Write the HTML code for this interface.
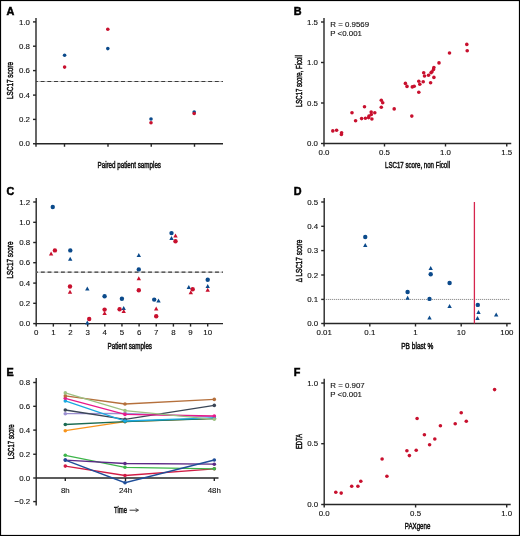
<!DOCTYPE html>
<html><head><meta charset="utf-8"><style>
html,body{margin:0;padding:0;background:#fff;}
svg{display:block;will-change:transform;font-family:"Liberation Sans",sans-serif;}
text{stroke:#111;stroke-width:0.12px;}
text.t{stroke-width:0.5px;}
</style></head><body>
<svg width="520" height="536" viewBox="0 0 520 536">
<rect x="0" y="0" width="520" height="536" fill="#fff"/>
<text x="6.5" y="15.2" font-size="10.8" font-weight="bold" fill="#000" style="stroke:#000;stroke-width:0.5px">A</text>
<line x1="36" y1="18" x2="36" y2="146.7" stroke="#262626" stroke-width="1.4" />
<line x1="35.4" y1="143.75" x2="223" y2="143.75" stroke="#262626" stroke-width="1.4" />
<line x1="33" y1="143.75" x2="36" y2="143.75" stroke="#262626" stroke-width="1.4" />
<text x="30" y="146.357" font-size="7.9" text-anchor="end" fill="#111111" >0.0</text>
<line x1="33" y1="119.4" x2="36" y2="119.4" stroke="#262626" stroke-width="1.4" />
<text x="30" y="122.007" font-size="7.9" text-anchor="end" fill="#111111" >0.2</text>
<line x1="33" y1="95.1" x2="36" y2="95.1" stroke="#262626" stroke-width="1.4" />
<text x="30" y="97.707" font-size="7.9" text-anchor="end" fill="#111111" >0.4</text>
<line x1="33" y1="70.6" x2="36" y2="70.6" stroke="#262626" stroke-width="1.4" />
<text x="30" y="73.207" font-size="7.9" text-anchor="end" fill="#111111" >0.6</text>
<line x1="33" y1="46.2" x2="36" y2="46.2" stroke="#262626" stroke-width="1.4" />
<text x="30" y="48.807" font-size="7.9" text-anchor="end" fill="#111111" >0.8</text>
<line x1="33" y1="21.9" x2="36" y2="21.9" stroke="#262626" stroke-width="1.4" />
<text x="30" y="24.506999999999998" font-size="7.9" text-anchor="end" fill="#111111" >1.0</text>
<line x1="64.5" y1="143.75" x2="64.5" y2="146.75" stroke="#262626" stroke-width="1.4" />
<line x1="108" y1="143.75" x2="108" y2="146.75" stroke="#262626" stroke-width="1.4" />
<line x1="151.25" y1="143.75" x2="151.25" y2="146.75" stroke="#262626" stroke-width="1.4" />
<line x1="194.5" y1="143.75" x2="194.5" y2="146.75" stroke="#262626" stroke-width="1.4" />
<text transform="translate(9.6,80.5) rotate(-90)" x="0" y="3.31" font-size="9.2" text-anchor="middle" fill="#111111" class="t" textLength="37" lengthAdjust="spacingAndGlyphs">LSC17 score</text>
<text x="97.5" y="168.31" font-size="9.2" fill="#111111" class="t" textLength="63.5" lengthAdjust="spacingAndGlyphs">Paired patient samples</text>
<line x1="36" y1="81.5" x2="223" y2="81.5" stroke="#c4c4c4" stroke-width="1.0" />
<line x1="36" y1="81.5" x2="223" y2="81.5" stroke="#3a3a3a" stroke-width="1.2" stroke-dasharray="3.9 2.8" stroke-dashoffset="2.05"/>
<circle cx="64.6" cy="55.2" r="1.8" fill="#0b4a8b"/>
<circle cx="64.6" cy="67.1" r="1.8" fill="#c8102e"/>
<circle cx="107.8" cy="48.6" r="1.8" fill="#0b4a8b"/>
<circle cx="107.8" cy="29.3" r="1.8" fill="#c8102e"/>
<circle cx="151" cy="119" r="1.8" fill="#0b4a8b"/>
<circle cx="151" cy="122.7" r="1.8" fill="#c8102e"/>
<circle cx="194.2" cy="112" r="1.8" fill="#0b4a8b"/>
<circle cx="194.2" cy="113.5" r="1.8" fill="#c8102e"/>
<text x="293.75" y="15.1" font-size="10.8" font-weight="bold" fill="#000" style="stroke:#000;stroke-width:0.5px">B</text>
<line x1="324" y1="18" x2="324" y2="144.1" stroke="#262626" stroke-width="1.4" />
<line x1="323.4" y1="143.5" x2="511.25" y2="143.5" stroke="#262626" stroke-width="1.4" />
<line x1="321" y1="143.5" x2="324" y2="143.5" stroke="#262626" stroke-width="1.4" />
<text x="318" y="146.107" font-size="7.9" text-anchor="end" fill="#111111" >0.0</text>
<line x1="321" y1="103" x2="324" y2="103" stroke="#262626" stroke-width="1.4" />
<text x="318" y="105.607" font-size="7.9" text-anchor="end" fill="#111111" >0.5</text>
<line x1="321" y1="62.5" x2="324" y2="62.5" stroke="#262626" stroke-width="1.4" />
<text x="318" y="65.107" font-size="7.9" text-anchor="end" fill="#111111" >1.0</text>
<line x1="321" y1="22" x2="324" y2="22" stroke="#262626" stroke-width="1.4" />
<text x="318" y="24.607" font-size="7.9" text-anchor="end" fill="#111111" >1.5</text>
<line x1="324" y1="143.5" x2="324" y2="146.5" stroke="#262626" stroke-width="1.4" />
<text x="324" y="154.833" font-size="7.9" text-anchor="middle" fill="#111111" >0.0</text>
<line x1="384.5" y1="143.5" x2="384.5" y2="146.5" stroke="#262626" stroke-width="1.4" />
<text x="384.5" y="154.833" font-size="7.9" text-anchor="middle" fill="#111111" >0.5</text>
<line x1="445.5" y1="143.5" x2="445.5" y2="146.5" stroke="#262626" stroke-width="1.4" />
<text x="445.5" y="154.833" font-size="7.9" text-anchor="middle" fill="#111111" >1.0</text>
<line x1="506.75" y1="143.5" x2="506.75" y2="146.5" stroke="#262626" stroke-width="1.4" />
<text x="506.75" y="154.833" font-size="7.9" text-anchor="middle" fill="#111111" >1.5</text>
<text transform="translate(298.6,81) rotate(-90)" x="0" y="3.31" font-size="9.2" text-anchor="middle" fill="#111111" class="t" textLength="52" lengthAdjust="spacingAndGlyphs">LSC17 score, Ficoll</text>
<text x="385" y="168.31" font-size="9.2" fill="#111111" class="t" textLength="65" lengthAdjust="spacingAndGlyphs">LSC17 score, non Ficoll</text>
<text x="330.3" y="27" font-size="7.9" text-anchor="start" fill="#111111" >R = 0.9569</text>
<text x="330.3" y="35.7" font-size="7.9" text-anchor="start" fill="#111111" >P &lt;0.001</text>
<circle cx="332.8" cy="130.9" r="1.8" fill="#c8102e"/>
<circle cx="336.6" cy="130.3" r="1.8" fill="#c8102e"/>
<circle cx="341.6" cy="132.8" r="1.8" fill="#c8102e"/>
<circle cx="341.4" cy="134.5" r="1.8" fill="#c8102e"/>
<circle cx="352" cy="112.8" r="1.8" fill="#c8102e"/>
<circle cx="355.6" cy="120.7" r="1.8" fill="#c8102e"/>
<circle cx="361.6" cy="118.6" r="1.8" fill="#c8102e"/>
<circle cx="364.5" cy="106.8" r="1.8" fill="#c8102e"/>
<circle cx="365.4" cy="118.3" r="1.8" fill="#c8102e"/>
<circle cx="368.6" cy="117.6" r="1.8" fill="#c8102e"/>
<circle cx="369" cy="116" r="1.8" fill="#c8102e"/>
<circle cx="371.3" cy="114.5" r="1.8" fill="#c8102e"/>
<circle cx="371.2" cy="112.1" r="1.8" fill="#c8102e"/>
<circle cx="374.8" cy="112.8" r="1.8" fill="#c8102e"/>
<circle cx="371.9" cy="119" r="1.8" fill="#c8102e"/>
<circle cx="381.3" cy="100.3" r="1.8" fill="#c8102e"/>
<circle cx="382.7" cy="102.7" r="1.8" fill="#c8102e"/>
<circle cx="381.3" cy="107.3" r="1.8" fill="#c8102e"/>
<circle cx="394.2" cy="108.9" r="1.8" fill="#c8102e"/>
<circle cx="411.8" cy="116.1" r="1.8" fill="#c8102e"/>
<circle cx="405.4" cy="83.4" r="1.8" fill="#c8102e"/>
<circle cx="407" cy="86.4" r="1.8" fill="#c8102e"/>
<circle cx="412.3" cy="86.9" r="1.8" fill="#c8102e"/>
<circle cx="414.2" cy="86.3" r="1.8" fill="#c8102e"/>
<circle cx="418.8" cy="92.2" r="1.8" fill="#c8102e"/>
<circle cx="418.8" cy="81.2" r="1.8" fill="#c8102e"/>
<circle cx="419.8" cy="84.3" r="1.8" fill="#c8102e"/>
<circle cx="423.2" cy="81.7" r="1.8" fill="#c8102e"/>
<circle cx="430.6" cy="82.7" r="1.8" fill="#c8102e"/>
<circle cx="423.7" cy="72.8" r="1.8" fill="#c8102e"/>
<circle cx="424.5" cy="76" r="1.8" fill="#c8102e"/>
<circle cx="428.5" cy="75.2" r="1.8" fill="#c8102e"/>
<circle cx="433.9" cy="77.4" r="1.8" fill="#c8102e"/>
<circle cx="431" cy="72.8" r="1.8" fill="#c8102e"/>
<circle cx="432" cy="71.8" r="1.8" fill="#c8102e"/>
<circle cx="433.5" cy="69.4" r="1.8" fill="#c8102e"/>
<circle cx="433.9" cy="67.5" r="1.8" fill="#c8102e"/>
<circle cx="439" cy="62.9" r="1.8" fill="#c8102e"/>
<circle cx="449.5" cy="53" r="1.8" fill="#c8102e"/>
<circle cx="466.8" cy="44.4" r="1.8" fill="#c8102e"/>
<circle cx="467.2" cy="50.7" r="1.8" fill="#c8102e"/>
<text x="6.5" y="195.1" font-size="10.8" font-weight="bold" fill="#000" style="stroke:#000;stroke-width:0.5px">C</text>
<line x1="36.2" y1="198" x2="36.2" y2="324.2" stroke="#262626" stroke-width="1.4" />
<line x1="35.6" y1="323.6" x2="223" y2="323.6" stroke="#262626" stroke-width="1.4" />
<line x1="33.2" y1="323.6" x2="36.2" y2="323.6" stroke="#262626" stroke-width="1.4" />
<text x="30.200000000000003" y="326.20700000000005" font-size="7.9" text-anchor="end" fill="#111111" >0.0</text>
<line x1="33.2" y1="303.3" x2="36.2" y2="303.3" stroke="#262626" stroke-width="1.4" />
<text x="30.200000000000003" y="305.90700000000004" font-size="7.9" text-anchor="end" fill="#111111" >0.2</text>
<line x1="33.2" y1="283.1" x2="36.2" y2="283.1" stroke="#262626" stroke-width="1.4" />
<text x="30.200000000000003" y="285.70700000000005" font-size="7.9" text-anchor="end" fill="#111111" >0.4</text>
<line x1="33.2" y1="262.7" x2="36.2" y2="262.7" stroke="#262626" stroke-width="1.4" />
<text x="30.200000000000003" y="265.307" font-size="7.9" text-anchor="end" fill="#111111" >0.6</text>
<line x1="33.2" y1="242.5" x2="36.2" y2="242.5" stroke="#262626" stroke-width="1.4" />
<text x="30.200000000000003" y="245.107" font-size="7.9" text-anchor="end" fill="#111111" >0.8</text>
<line x1="33.2" y1="222.3" x2="36.2" y2="222.3" stroke="#262626" stroke-width="1.4" />
<text x="30.200000000000003" y="224.907" font-size="7.9" text-anchor="end" fill="#111111" >1.0</text>
<line x1="33.2" y1="202" x2="36.2" y2="202" stroke="#262626" stroke-width="1.4" />
<text x="30.200000000000003" y="204.607" font-size="7.9" text-anchor="end" fill="#111111" >1.2</text>
<line x1="36.2" y1="323.6" x2="36.2" y2="326.6" stroke="#262626" stroke-width="1.4" />
<text x="36.2" y="335.133" font-size="7.9" text-anchor="middle" fill="#111111" >0</text>
<line x1="53.35" y1="323.6" x2="53.35" y2="326.6" stroke="#262626" stroke-width="1.4" />
<text x="53.35" y="335.133" font-size="7.9" text-anchor="middle" fill="#111111" >1</text>
<line x1="70.5" y1="323.6" x2="70.5" y2="326.6" stroke="#262626" stroke-width="1.4" />
<text x="70.5" y="335.133" font-size="7.9" text-anchor="middle" fill="#111111" >2</text>
<line x1="87.65" y1="323.6" x2="87.65" y2="326.6" stroke="#262626" stroke-width="1.4" />
<text x="87.65" y="335.133" font-size="7.9" text-anchor="middle" fill="#111111" >3</text>
<line x1="104.8" y1="323.6" x2="104.8" y2="326.6" stroke="#262626" stroke-width="1.4" />
<text x="104.8" y="335.133" font-size="7.9" text-anchor="middle" fill="#111111" >4</text>
<line x1="121.95" y1="323.6" x2="121.95" y2="326.6" stroke="#262626" stroke-width="1.4" />
<text x="121.95" y="335.133" font-size="7.9" text-anchor="middle" fill="#111111" >5</text>
<line x1="139.1" y1="323.6" x2="139.1" y2="326.6" stroke="#262626" stroke-width="1.4" />
<text x="139.1" y="335.133" font-size="7.9" text-anchor="middle" fill="#111111" >6</text>
<line x1="156.25" y1="323.6" x2="156.25" y2="326.6" stroke="#262626" stroke-width="1.4" />
<text x="156.25" y="335.133" font-size="7.9" text-anchor="middle" fill="#111111" >7</text>
<line x1="173.39999999999998" y1="323.6" x2="173.39999999999998" y2="326.6" stroke="#262626" stroke-width="1.4" />
<text x="173.39999999999998" y="335.133" font-size="7.9" text-anchor="middle" fill="#111111" >8</text>
<line x1="190.55" y1="323.6" x2="190.55" y2="326.6" stroke="#262626" stroke-width="1.4" />
<text x="190.55" y="335.133" font-size="7.9" text-anchor="middle" fill="#111111" >9</text>
<line x1="207.7" y1="323.6" x2="207.7" y2="326.6" stroke="#262626" stroke-width="1.4" />
<text x="207.7" y="335.133" font-size="7.9" text-anchor="middle" fill="#111111" >10</text>
<text transform="translate(9.6,260) rotate(-90)" x="0" y="3.31" font-size="9.2" text-anchor="middle" fill="#111111" class="t" textLength="37" lengthAdjust="spacingAndGlyphs">LSC17 score</text>
<text x="107.5" y="348.81" font-size="9.2" fill="#111111" class="t" textLength="44.5" lengthAdjust="spacingAndGlyphs">Patient samples</text>
<line x1="36.2" y1="272.2" x2="223" y2="272.2" stroke="#c4c4c4" stroke-width="1.0" />
<line x1="36.2" y1="272.2" x2="223" y2="272.2" stroke="#3a3a3a" stroke-width="1.2" stroke-dasharray="3.9 2.8" stroke-dashoffset="2.05"/>
<circle cx="52.75" cy="207" r="2.2" fill="#0b4a8b"/>
<circle cx="54.9" cy="250.4" r="2.2" fill="#c8102e"/>
<polygon points="48.90,255.50 53.30,255.50 51.10,251.50" fill="#c8102e"/>
<circle cx="70.3" cy="250.4" r="2.2" fill="#0b4a8b"/>
<polygon points="68.00,260.80 72.40,260.80 70.20,256.80" fill="#0b4a8b"/>
<circle cx="70" cy="286.5" r="2.2" fill="#c8102e"/>
<polygon points="67.80,293.70 72.20,293.70 70.00,289.70" fill="#c8102e"/>
<polygon points="85.10,290.50 89.50,290.50 87.30,286.50" fill="#0b4a8b"/>
<polygon points="85.10,324.50 89.50,324.50 87.30,320.50" fill="#0b4a8b"/>
<circle cx="89.2" cy="319" r="2.2" fill="#c8102e"/>
<circle cx="104.6" cy="296.2" r="2.2" fill="#0b4a8b"/>
<circle cx="104.6" cy="309.6" r="2.2" fill="#c8102e"/>
<polygon points="102.40,314.90 106.80,314.90 104.60,310.90" fill="#c8102e"/>
<circle cx="121.9" cy="298.8" r="2.2" fill="#0b4a8b"/>
<circle cx="119.6" cy="309.2" r="2.2" fill="#c8102e"/>
<polygon points="121.50,310.10 125.90,310.10 123.70,306.10" fill="#0b4a8b"/>
<polygon points="121.50,313.00 125.90,313.00 123.70,309.00" fill="#c8102e"/>
<polygon points="136.60,257.10 141.00,257.10 138.80,253.10" fill="#0b4a8b"/>
<circle cx="138.8" cy="269.4" r="2.2" fill="#0b4a8b"/>
<polygon points="136.60,280.30 141.00,280.30 138.80,276.30" fill="#c8102e"/>
<circle cx="138.8" cy="290.2" r="2.2" fill="#c8102e"/>
<circle cx="154.2" cy="299.6" r="2.2" fill="#0b4a8b"/>
<polygon points="156.30,302.40 160.70,302.40 158.50,298.40" fill="#0b4a8b"/>
<polygon points="154.00,310.50 158.40,310.50 156.20,306.50" fill="#c8102e"/>
<circle cx="156.2" cy="316.2" r="2.2" fill="#c8102e"/>
<circle cx="171.5" cy="233.1" r="2.2" fill="#0b4a8b"/>
<polygon points="169.30,240.10 173.70,240.10 171.50,236.10" fill="#0b4a8b"/>
<polygon points="173.30,237.40 177.70,237.40 175.50,233.40" fill="#c8102e"/>
<circle cx="175.5" cy="241.2" r="2.2" fill="#c8102e"/>
<polygon points="186.60,288.90 191.00,288.90 188.80,284.90" fill="#0b4a8b"/>
<circle cx="192.7" cy="289.2" r="2.2" fill="#c8102e"/>
<polygon points="188.60,294.30 193.00,294.30 190.80,290.30" fill="#c8102e"/>
<circle cx="207.7" cy="279.8" r="2.2" fill="#0b4a8b"/>
<polygon points="205.50,288.00 209.90,288.00 207.70,284.00" fill="#0b4a8b"/>
<polygon points="205.50,291.80 209.90,291.80 207.70,287.80" fill="#c8102e"/>
<text x="293.75" y="195.1" font-size="10.8" font-weight="bold" fill="#000" style="stroke:#000;stroke-width:0.5px">D</text>
<line x1="324.2" y1="198" x2="324.2" y2="324.1" stroke="#262626" stroke-width="1.4" />
<line x1="323.6" y1="323.5" x2="510.8" y2="323.5" stroke="#262626" stroke-width="1.4" />
<line x1="321.2" y1="323.5" x2="324.2" y2="323.5" stroke="#262626" stroke-width="1.4" />
<text x="318.2" y="326.107" font-size="7.9" text-anchor="end" fill="#111111" >0.0</text>
<line x1="321.2" y1="299.4" x2="324.2" y2="299.4" stroke="#262626" stroke-width="1.4" />
<text x="318.2" y="302.007" font-size="7.9" text-anchor="end" fill="#111111" >0.1</text>
<line x1="321.2" y1="275" x2="324.2" y2="275" stroke="#262626" stroke-width="1.4" />
<text x="318.2" y="277.607" font-size="7.9" text-anchor="end" fill="#111111" >0.2</text>
<line x1="321.2" y1="250.6" x2="324.2" y2="250.6" stroke="#262626" stroke-width="1.4" />
<text x="318.2" y="253.207" font-size="7.9" text-anchor="end" fill="#111111" >0.3</text>
<line x1="321.2" y1="226.3" x2="324.2" y2="226.3" stroke="#262626" stroke-width="1.4" />
<text x="318.2" y="228.907" font-size="7.9" text-anchor="end" fill="#111111" >0.4</text>
<line x1="321.2" y1="202" x2="324.2" y2="202" stroke="#262626" stroke-width="1.4" />
<text x="318.2" y="204.607" font-size="7.9" text-anchor="end" fill="#111111" >0.5</text>
<line x1="324.2" y1="323.5" x2="324.2" y2="326.5" stroke="#262626" stroke-width="1.4" />
<text x="324.2" y="335.133" font-size="7.9" text-anchor="middle" fill="#111111" >0.01</text>
<line x1="369.8" y1="323.5" x2="369.8" y2="326.5" stroke="#262626" stroke-width="1.4" />
<text x="369.8" y="335.133" font-size="7.9" text-anchor="middle" fill="#111111" >0.1</text>
<line x1="415.5" y1="323.5" x2="415.5" y2="326.5" stroke="#262626" stroke-width="1.4" />
<text x="415.5" y="335.133" font-size="7.9" text-anchor="middle" fill="#111111" >1</text>
<line x1="461.2" y1="323.5" x2="461.2" y2="326.5" stroke="#262626" stroke-width="1.4" />
<text x="461.2" y="335.133" font-size="7.9" text-anchor="middle" fill="#111111" >10</text>
<line x1="506.9" y1="323.5" x2="506.9" y2="326.5" stroke="#262626" stroke-width="1.4" />
<text x="506.9" y="335.133" font-size="7.9" text-anchor="middle" fill="#111111" >100</text>
<text transform="translate(298.3,261) rotate(-90)" x="0" y="3.31" font-size="9.2" text-anchor="middle" fill="#111111" class="t" textLength="42.5" lengthAdjust="spacingAndGlyphs">&#916; LSC17 score</text>
<text x="401.25" y="348.81" font-size="9.2" fill="#111111" class="t" textLength="32.0" lengthAdjust="spacingAndGlyphs">PB blast %</text>
<line x1="324.2" y1="299.45" x2="509.6" y2="299.45" stroke="#555" stroke-width="0.8" stroke-dasharray="1 1"/>
<line x1="474.4" y1="202" x2="474.4" y2="323.5" stroke="#d6254d" stroke-width="1.3" />
<circle cx="365.25" cy="237" r="2.2" fill="#0b4a8b"/>
<polygon points="363.05,247.00 367.45,247.00 365.25,243.00" fill="#0b4a8b"/>
<circle cx="407.6" cy="292" r="2.2" fill="#0b4a8b"/>
<polygon points="405.40,299.80 409.80,299.80 407.60,295.80" fill="#0b4a8b"/>
<polygon points="428.50,270.00 432.90,270.00 430.70,266.00" fill="#0b4a8b"/>
<circle cx="430.7" cy="274.2" r="2.2" fill="#0b4a8b"/>
<circle cx="429.5" cy="298.9" r="2.2" fill="#0b4a8b"/>
<polygon points="427.30,319.60 431.70,319.60 429.50,315.60" fill="#0b4a8b"/>
<circle cx="449.6" cy="283" r="2.2" fill="#0b4a8b"/>
<polygon points="447.40,307.90 451.80,307.90 449.60,303.90" fill="#0b4a8b"/>
<circle cx="477.8" cy="304.9" r="2.2" fill="#0b4a8b"/>
<polygon points="476.30,313.90 480.70,313.90 478.50,309.90" fill="#0b4a8b"/>
<polygon points="475.30,320.10 479.70,320.10 477.50,316.10" fill="#0b4a8b"/>
<polygon points="494.00,316.60 498.40,316.60 496.20,312.60" fill="#0b4a8b"/>
<text x="6.5" y="375.6" font-size="10.8" font-weight="bold" fill="#000" style="stroke:#000;stroke-width:0.5px">E</text>
<line x1="36.2" y1="378" x2="36.2" y2="505.5" stroke="#262626" stroke-width="1.4" />
<line x1="36.2" y1="478" x2="218.5" y2="478" stroke="#262626" stroke-width="1.4" />
<line x1="33.2" y1="501.6" x2="36.2" y2="501.6" stroke="#262626" stroke-width="1.4" />
<text x="30.200000000000003" y="504.20700000000005" font-size="7.9" text-anchor="end" fill="#111111" >&#8722;0.2</text>
<line x1="33.2" y1="478" x2="36.2" y2="478" stroke="#262626" stroke-width="1.4" />
<text x="30.200000000000003" y="480.607" font-size="7.9" text-anchor="end" fill="#111111" >0.0</text>
<line x1="33.2" y1="454.25" x2="36.2" y2="454.25" stroke="#262626" stroke-width="1.4" />
<text x="30.200000000000003" y="456.857" font-size="7.9" text-anchor="end" fill="#111111" >0.2</text>
<line x1="33.2" y1="430.1" x2="36.2" y2="430.1" stroke="#262626" stroke-width="1.4" />
<text x="30.200000000000003" y="432.70700000000005" font-size="7.9" text-anchor="end" fill="#111111" >0.4</text>
<line x1="33.2" y1="406.3" x2="36.2" y2="406.3" stroke="#262626" stroke-width="1.4" />
<text x="30.200000000000003" y="408.90700000000004" font-size="7.9" text-anchor="end" fill="#111111" >0.6</text>
<line x1="33.2" y1="382.5" x2="36.2" y2="382.5" stroke="#262626" stroke-width="1.4" />
<text x="30.200000000000003" y="385.107" font-size="7.9" text-anchor="end" fill="#111111" >0.8</text>
<line x1="65.3" y1="478" x2="65.3" y2="481" stroke="#262626" stroke-width="1.4" />
<text x="65.3" y="492.733" font-size="7.9" text-anchor="middle" fill="#111111" >8h</text>
<line x1="125.5" y1="478" x2="125.5" y2="481" stroke="#262626" stroke-width="1.4" />
<text x="125.5" y="492.733" font-size="7.9" text-anchor="middle" fill="#111111" >24h</text>
<line x1="214.3" y1="478" x2="214.3" y2="481" stroke="#262626" stroke-width="1.4" />
<text x="214.3" y="492.733" font-size="7.9" text-anchor="middle" fill="#111111" >48h</text>
<text transform="translate(10.3,441.8) rotate(-90)" x="0" y="3.31" font-size="9.2" text-anchor="middle" fill="#111111" class="t" textLength="35" lengthAdjust="spacingAndGlyphs">LSC17 score</text>
<text x="114.1" y="512.61" font-size="9.2" fill="#111111" class="t" textLength="12.800000000000011" lengthAdjust="spacingAndGlyphs">Time</text>
<path d="M129.6,510.2 H137.6" stroke="#222" stroke-width="0.9" fill="none"/><path d="M135.6,508.6 L138.6,510.2 L135.6,511.8" stroke="#222" stroke-width="0.8" fill="none"/>
<polyline points="65.3,430.7 125,421.6 214.3,418.3" fill="none" stroke="#f7941d" stroke-width="1.3"/>
<circle cx="65.3" cy="430.7" r="1.8" fill="#f7941d"/>
<circle cx="125" cy="421.6" r="1.8" fill="#f7941d"/>
<circle cx="214.3" cy="418.3" r="1.8" fill="#f7941d"/>
<polyline points="65.3,424.5 125,421.6 214.3,418.5" fill="none" stroke="#1b6b52" stroke-width="1.3"/>
<circle cx="65.3" cy="424.5" r="1.8" fill="#1b6b52"/>
<circle cx="125" cy="421.6" r="1.8" fill="#1b6b52"/>
<circle cx="214.3" cy="418.5" r="1.8" fill="#1b6b52"/>
<polyline points="65.3,413.7 125,413.3 214.3,416.8" fill="none" stroke="#9b8fd0" stroke-width="1.3"/>
<circle cx="65.3" cy="413.7" r="1.8" fill="#9b8fd0"/>
<circle cx="125" cy="413.3" r="1.8" fill="#9b8fd0"/>
<circle cx="214.3" cy="416.8" r="1.8" fill="#9b8fd0"/>
<polyline points="65.3,410 125,419.4 214.3,405.4" fill="none" stroke="#3a4656" stroke-width="1.3"/>
<circle cx="65.3" cy="410" r="1.8" fill="#3a4656"/>
<circle cx="125" cy="419.4" r="1.8" fill="#3a4656"/>
<circle cx="214.3" cy="405.4" r="1.8" fill="#3a4656"/>
<polyline points="65.3,400.9 125,421.0 214.3,417.9" fill="none" stroke="#1ba8e0" stroke-width="1.3"/>
<circle cx="65.3" cy="400.9" r="1.8" fill="#1ba8e0"/>
<circle cx="125" cy="421.0" r="1.8" fill="#1ba8e0"/>
<circle cx="214.3" cy="417.9" r="1.8" fill="#1ba8e0"/>
<polyline points="65.3,398.3 125,414.4 214.3,416.0" fill="none" stroke="#e8198b" stroke-width="1.3"/>
<circle cx="65.3" cy="398.3" r="1.8" fill="#e8198b"/>
<circle cx="125" cy="414.4" r="1.8" fill="#e8198b"/>
<circle cx="214.3" cy="416.0" r="1.8" fill="#e8198b"/>
<polyline points="65.3,395.9 125,404.0 214.3,399.4" fill="none" stroke="#b5703c" stroke-width="1.3"/>
<circle cx="65.3" cy="395.9" r="1.8" fill="#b5703c"/>
<circle cx="125" cy="404.0" r="1.8" fill="#b5703c"/>
<circle cx="214.3" cy="399.4" r="1.8" fill="#b5703c"/>
<polyline points="65.3,392.9 125,410.6 214.3,419.3" fill="none" stroke="#9dc183" stroke-width="1.3"/>
<circle cx="65.3" cy="392.9" r="1.8" fill="#9dc183"/>
<circle cx="125" cy="410.6" r="1.8" fill="#9dc183"/>
<circle cx="214.3" cy="419.3" r="1.8" fill="#9dc183"/>
<polyline points="65.3,466.1 125,475.5 214.3,468.8" fill="none" stroke="#d01c45" stroke-width="1.3"/>
<circle cx="65.3" cy="466.1" r="1.8" fill="#d01c45"/>
<circle cx="125" cy="475.5" r="1.8" fill="#d01c45"/>
<circle cx="214.3" cy="468.8" r="1.8" fill="#d01c45"/>
<polyline points="65.3,455.3 125,467.3 214.3,468.8" fill="none" stroke="#3db54a" stroke-width="1.3"/>
<circle cx="65.3" cy="455.3" r="1.8" fill="#3db54a"/>
<circle cx="125" cy="467.3" r="1.8" fill="#3db54a"/>
<circle cx="214.3" cy="468.8" r="1.8" fill="#3db54a"/>
<polyline points="65.3,460.1 125,463.5 214.3,464.2" fill="none" stroke="#5b2a86" stroke-width="1.3"/>
<circle cx="65.3" cy="460.1" r="1.8" fill="#5b2a86"/>
<circle cx="125" cy="463.5" r="1.8" fill="#5b2a86"/>
<circle cx="214.3" cy="464.2" r="1.8" fill="#5b2a86"/>
<polyline points="65.3,460.1 125,482.7 214.3,460.0" fill="none" stroke="#1f4e99" stroke-width="1.3"/>
<circle cx="65.3" cy="460.1" r="1.8" fill="#1f4e99"/>
<circle cx="125" cy="482.7" r="1.8" fill="#1f4e99"/>
<circle cx="214.3" cy="460.0" r="1.8" fill="#1f4e99"/>
<text x="293.75" y="375.6" font-size="10.8" font-weight="bold" fill="#000" style="stroke:#000;stroke-width:0.5px">F</text>
<line x1="324.2" y1="378.75" x2="324.2" y2="505.1" stroke="#262626" stroke-width="1.4" />
<line x1="323.6" y1="504.5" x2="510.7" y2="504.5" stroke="#262626" stroke-width="1.4" />
<line x1="321.2" y1="504.5" x2="324.2" y2="504.5" stroke="#262626" stroke-width="1.4" />
<text x="318.2" y="507.107" font-size="7.9" text-anchor="end" fill="#111111" >0.0</text>
<line x1="321.2" y1="443.7" x2="324.2" y2="443.7" stroke="#262626" stroke-width="1.4" />
<text x="318.2" y="446.307" font-size="7.9" text-anchor="end" fill="#111111" >0.5</text>
<line x1="321.2" y1="383" x2="324.2" y2="383" stroke="#262626" stroke-width="1.4" />
<text x="318.2" y="385.607" font-size="7.9" text-anchor="end" fill="#111111" >1.0</text>
<line x1="324.2" y1="504.5" x2="324.2" y2="507.5" stroke="#262626" stroke-width="1.4" />
<text x="324.2" y="515.533" font-size="7.9" text-anchor="middle" fill="#111111" >0.0</text>
<line x1="415.6" y1="504.5" x2="415.6" y2="507.5" stroke="#262626" stroke-width="1.4" />
<text x="415.6" y="515.533" font-size="7.9" text-anchor="middle" fill="#111111" >0.5</text>
<line x1="506.7" y1="504.5" x2="506.7" y2="507.5" stroke="#262626" stroke-width="1.4" />
<text x="506.7" y="515.533" font-size="7.9" text-anchor="middle" fill="#111111" >1.0</text>
<text transform="translate(298.7,441.5) rotate(-90)" x="0" y="3.31" font-size="9.2" text-anchor="middle" fill="#111111" class="t" textLength="15" lengthAdjust="spacingAndGlyphs">EDTA</text>
<text x="404.8" y="529.11" font-size="9.2" fill="#111111" class="t" textLength="25.599999999999966" lengthAdjust="spacingAndGlyphs">PAXgene</text>
<text x="330.3" y="387.75" font-size="7.9" text-anchor="start" fill="#111111" >R = 0.907</text>
<text x="330.3" y="396.5" font-size="7.9" text-anchor="start" fill="#111111" >P &lt;0.001</text>
<circle cx="335.8" cy="492.3" r="1.8" fill="#c8102e"/>
<circle cx="341.2" cy="493.1" r="1.8" fill="#c8102e"/>
<circle cx="351.7" cy="486.3" r="1.8" fill="#c8102e"/>
<circle cx="357.9" cy="486.3" r="1.8" fill="#c8102e"/>
<circle cx="360.8" cy="481.2" r="1.8" fill="#c8102e"/>
<circle cx="382.1" cy="459" r="1.8" fill="#c8102e"/>
<circle cx="386.9" cy="476.2" r="1.8" fill="#c8102e"/>
<circle cx="406.9" cy="450.8" r="1.8" fill="#c8102e"/>
<circle cx="409.4" cy="455.6" r="1.8" fill="#c8102e"/>
<circle cx="416.2" cy="450.2" r="1.8" fill="#c8102e"/>
<circle cx="417.1" cy="418.5" r="1.8" fill="#c8102e"/>
<circle cx="424.4" cy="434.8" r="1.8" fill="#c8102e"/>
<circle cx="429.6" cy="444.8" r="1.8" fill="#c8102e"/>
<circle cx="434.8" cy="439" r="1.8" fill="#c8102e"/>
<circle cx="440.4" cy="425.8" r="1.8" fill="#c8102e"/>
<circle cx="455.2" cy="423.7" r="1.8" fill="#c8102e"/>
<circle cx="461.2" cy="412.7" r="1.8" fill="#c8102e"/>
<circle cx="466.3" cy="421.2" r="1.8" fill="#c8102e"/>
<circle cx="494.6" cy="389.6" r="1.8" fill="#c8102e"/>
<rect x="0.5" y="0.5" width="519" height="535" fill="none" stroke="#000" stroke-width="1.2"/>
</svg>
</body></html>
